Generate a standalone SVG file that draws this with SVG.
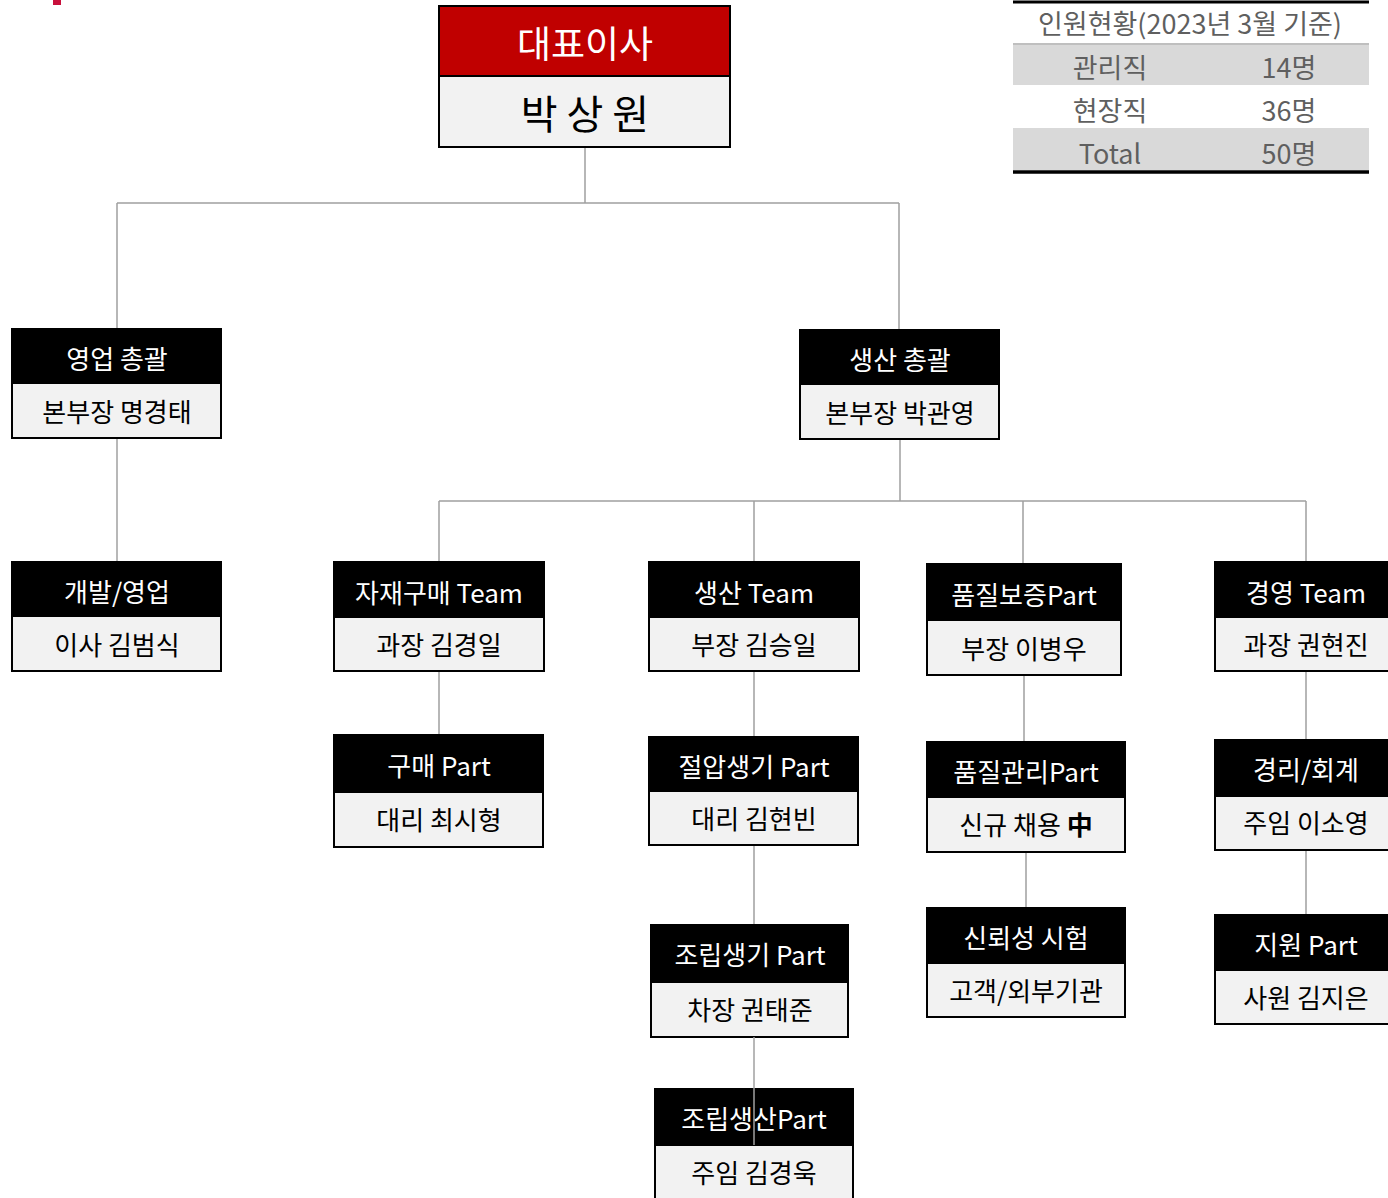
<svg xmlns="http://www.w3.org/2000/svg" width="1388" height="1198" viewBox="0 0 1388 1198">
<style>
text{font-family:"Noto Sans CJK KR","Noto Sans",sans-serif;text-anchor:middle;dominant-baseline:central}
.hd{fill:#000;stroke:#000;stroke-width:2}
.bd{fill:#f2f2f2;stroke:#000;stroke-width:2}
.ht{fill:#fff;font-size:26px}
.bt{fill:#000;font-size:26px}
.ln{stroke:#a0a0a0;stroke-width:1.5;fill:none}
.tt{fill:#5f5f5f;font-size:27px}
</style>
<rect x="0" y="0" width="1388" height="1198" fill="#fff"/>
<rect x="53" y="0" width="8" height="5" fill="#c8103c"/>
<g id="connectors">
<path class="ln" d="M585,147V203M117,203H899M117,203V329M899,203V330" stroke="#909090"/>
<path class="ln" d="M117,438V562"/>
<path class="ln" d="M900,439V501M439,501H1306M439,501V562M754,501V562M1023,501V564M1306,501V562"/>
<path class="ln" d="M439,671V735M754,671V737M1024,675V742M1306,671V740"/>
<path class="ln" d="M754,845V925M1026,852V908M1306,850V915"/>
</g>
<g id="ceo">
<rect x="439" y="6" width="291" height="70" fill="#c00000" stroke="#000" stroke-width="2"/>
<rect x="439" y="76" width="291" height="71" class="bd"/>
<text x="585" y="42" fill="#fff" font-size="37">대표이사</text>
<text x="585" y="112" fill="#000" font-size="40">박 상 원</text>
</g>
<g id="table">
<line x1="1013" y1="2" x2="1369" y2="2" stroke="#000" stroke-width="3"/>
<text x="1190" y="22" class="tt">인원현황(2023년 3월 기준)</text>
<rect x="1013" y="43" width="356" height="42" fill="#d9d9d9"/>
<line x1="1013" y1="44" x2="1369" y2="44" stroke="#bfbfbf" stroke-width="2"/>
<rect x="1013" y="128" width="356" height="42" fill="#d9d9d9"/>
<line x1="1013" y1="172" x2="1369" y2="172" stroke="#000" stroke-width="3.5"/>
<text x="1110" y="66" class="tt">관리직</text><text x="1289" y="66" class="tt">14명</text>
<text x="1110" y="109" class="tt">현장직</text><text x="1289" y="109" class="tt">36명</text>
<text x="1110" y="152" class="tt">Total</text><text x="1289" y="152" class="tt">50명</text>
</g>
<g id="sales">
<rect x="12" y="329" width="209" height="54" class="hd"/><rect x="12" y="383" width="209" height="55" class="bd"/>
<text x="117" y="357" class="ht">영업 총괄</text><text x="117" y="410" class="bt">본부장 명경태</text>
</g>
<g id="production">
<rect x="800" y="330" width="199" height="54" class="hd"/><rect x="800" y="384" width="199" height="55" class="bd"/>
<text x="900" y="358" class="ht">생산 총괄</text><text x="900" y="411" class="bt">본부장 박관영</text>
</g>
<g id="dev">
<rect x="12" y="562" width="209" height="54" class="hd"/><rect x="12" y="616" width="209" height="55" class="bd"/>
<text x="117" y="590" class="ht">개발/영업</text><text x="117" y="643" class="bt">이사 김범식</text>
</g>
<g id="purchase-team">
<rect x="334" y="562" width="210" height="55" class="hd"/><rect x="334" y="617" width="210" height="54" class="bd"/>
<text x="439" y="591" class="ht">자재구매 Team</text><text x="439" y="643" class="bt">과장 김경일</text>
</g>
<g id="prod-team">
<rect x="649" y="562" width="210" height="55" class="hd"/><rect x="649" y="617" width="210" height="54" class="bd"/>
<text x="754" y="591" class="ht">생산 Team</text><text x="754" y="643" class="bt">부장 김승일</text>
</g>
<g id="qa-part">
<rect x="927" y="564" width="194" height="56" class="hd"/><rect x="927" y="620" width="194" height="55" class="bd"/>
<text x="1024" y="593" class="ht">품질보증Part</text><text x="1024" y="647" class="bt">부장 이병우</text>
</g>
<g id="mgmt-team">
<rect x="1215" y="562" width="182" height="55" class="hd"/><rect x="1215" y="617" width="182" height="54" class="bd"/>
<text x="1306" y="591" class="ht">경영 Team</text><text x="1306" y="643" class="bt">과장 권현진</text>
</g>
<g id="buy-part">
<rect x="334" y="735" width="209" height="57" class="hd"/><rect x="334" y="792" width="209" height="55" class="bd"/>
<text x="439" y="764" class="ht">구매 Part</text><text x="439" y="818" class="bt">대리 최시형</text>
</g>
<g id="press-part">
<rect x="649" y="737" width="209" height="54" class="hd"/><rect x="649" y="791" width="209" height="54" class="bd"/>
<text x="754" y="765" class="ht">절압생기 Part</text><text x="754" y="817" class="bt">대리 김현빈</text>
</g>
<g id="qc-part">
<rect x="927" y="742" width="198" height="55" class="hd"/><rect x="927" y="797" width="198" height="55" class="bd"/>
<text x="1026" y="770" class="ht">품질관리Part</text><text x="1026" y="823" class="bt">신규 채용 <tspan font-weight="bold">中</tspan></text>
</g>
<g id="acct">
<rect x="1215" y="740" width="182" height="56" class="hd"/><rect x="1215" y="796" width="182" height="54" class="bd"/>
<text x="1306" y="768" class="ht">경리/회계</text><text x="1306" y="821" class="bt">주임 이소영</text>
</g>
<g id="assy-equip">
<rect x="651" y="925" width="197" height="57" class="hd"/><rect x="651" y="982" width="197" height="55" class="bd"/>
<text x="750" y="953" class="ht">조립생기 Part</text><text x="750" y="1008" class="bt">차장 권태준</text>
</g>
<g id="reliability">
<rect x="927" y="908" width="198" height="55" class="hd"/><rect x="927" y="963" width="198" height="54" class="bd"/>
<text x="1026" y="936" class="ht">신뢰성 시험</text><text x="1026" y="989" class="bt">고객/외부기관</text>
</g>
<g id="support">
<rect x="1215" y="915" width="182" height="55" class="hd"/><rect x="1215" y="970" width="182" height="54" class="bd"/>
<text x="1306" y="943" class="ht">지원 Part</text><text x="1306" y="996" class="bt">사원 김지은</text>
</g>
<g id="assy-prod">
<rect x="655" y="1089" width="198" height="56" class="hd"/><rect x="655" y="1145" width="198" height="60" class="bd"/>
<text x="754" y="1117" class="ht">조립생산Part</text><text x="754" y="1171" class="bt">주임 김경욱</text>
</g>
<line x1="754" y1="1037" x2="754" y2="1145" stroke="#a0a0a0" stroke-width="1.5"/>
</svg>
